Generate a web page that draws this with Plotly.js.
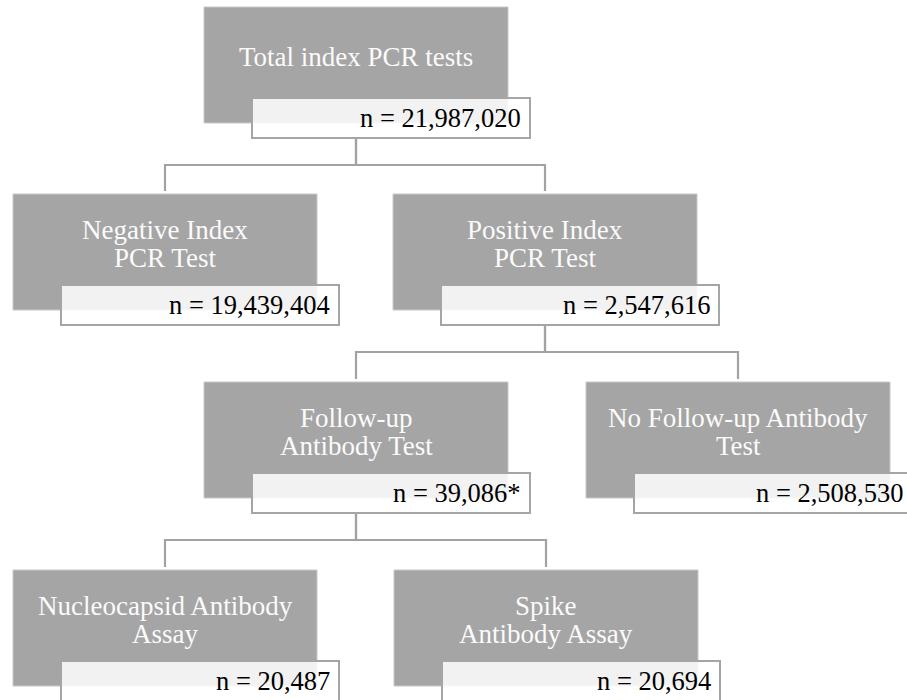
<!DOCTYPE html>
<html>
<head>
<meta charset="utf-8">
<script src="https://cdn.plot.ly/plotly-3.0.1.min.js"></script>
<style>html,body{margin:0;padding:0;background:#fff;}#chart{width:907px;height:700px;}</style>
</head>
<body>
<div id="chart"></div>
<script>
// ---- data ----
const nodeLabels = [
  'Total index PCR tests',
  'Negative Index<br>PCR Test',
  'Positive Index<br>PCR Test',
  'Follow-up<br>Antibody Test',
  'No Follow-up Antibody<br>Test',
  'Nucleocapsid Antibody<br>Assay',
  'Spike<br>Antibody Assay'
];
const nodeCounts = [21987020, 19439404, 2547616, 39086, 2508530, 20487, 20694];
const countSuffix = ['', '', '', '*', '', '', ''];
const parentIndex = [-1, 0, 0, 2, 2, 3, 3];

// ---- layout (positions in pixel-like axis units) ----
const boxLeft = [204, 13, 393, 204, 586, 13, 394];
const boxTop  = [7, 194, 194, 382, 382, 570, 570];
const BW = 304, BH = 116;         // grey box
const WX = 48, WY = 91, WW = 278, WH = 40; // white count box offset/size
const BAR = 158;                   // horizontal connector below parent top
const LINE_PITCH = 28;

const grey = '#a5a5a5';
const lineCol = '#a2a2a2';
const font = 'Liberation Serif';

const shapes = [];
const annotations = [];

// connectors
for (let i = 0; i < nodeLabels.length; i++) {
  const p = parentIndex[i];
  if (p < 0) continue;
  const px = boxLeft[p] + BW / 2, cx = boxLeft[i] + BW / 2;
  const barY = boxTop[p] + BAR;
  shapes.push({type: 'path', xref: 'x', yref: 'y',
    path: `M ${px} ${boxTop[p] + WY + WH} L ${px} ${barY} L ${cx} ${barY} L ${cx} ${boxTop[i] - 3}`,
    line: {color: lineCol, width: 2.2}});
}
// boxes
for (let i = 0; i < nodeLabels.length; i++) {
  const x0 = boxLeft[i], y0 = boxTop[i];
  shapes.push({type: 'rect', xref: 'x', yref: 'y', x0: x0, x1: x0 + BW, y0: y0, y1: y0 + BH,
    fillcolor: grey, line: {color: '#c8c8c8', width: 1}});
  shapes.push({type: 'rect', xref: 'x', yref: 'y', x0: x0 + WX, x1: x0 + WX + WW, y0: y0 + WY, y1: y0 + WY + WH,
    fillcolor: 'rgba(255,255,255,0.86)', line: {color: grey, width: 2}});
  const lines = nodeLabels[i].split('<br>');
  const cy = y0 + 50;
  lines.forEach((t, k) => {
    annotations.push({xref: 'x', yref: 'y', x: x0 + BW / 2, y: cy + (k - (lines.length - 1) / 2) * LINE_PITCH,
      text: t, showarrow: false, xanchor: 'center', yanchor: 'middle',
      font: {family: font, size: 27, color: '#fbfbfb'}});
  });
  annotations.push({xref: 'x', yref: 'y', x: x0 + WX + WW - 7, y: y0 + WY + WH / 2 - 0.5,
    text: 'n = ' + nodeCounts[i].toLocaleString('en-US') + countSuffix[i],
    showarrow: false, xanchor: 'right', yanchor: 'middle',
    font: {family: font, size: 26.5, color: '#000000'}});
}

const layout = {
  width: 907, height: 700,
  margin: {l: 0, r: 0, t: 0, b: 0},
  paper_bgcolor: '#ffffff', plot_bgcolor: '#ffffff',
  xaxis: {range: [0, 907], visible: false, fixedrange: true},
  yaxis: {range: [700, 0], visible: false, fixedrange: true},
  showlegend: false,
  shapes: shapes,
  annotations: annotations
};
Plotly.newPlot('chart', [], layout, {displayModeBar: false, staticPlot: true});
</script>
</body>
</html>
